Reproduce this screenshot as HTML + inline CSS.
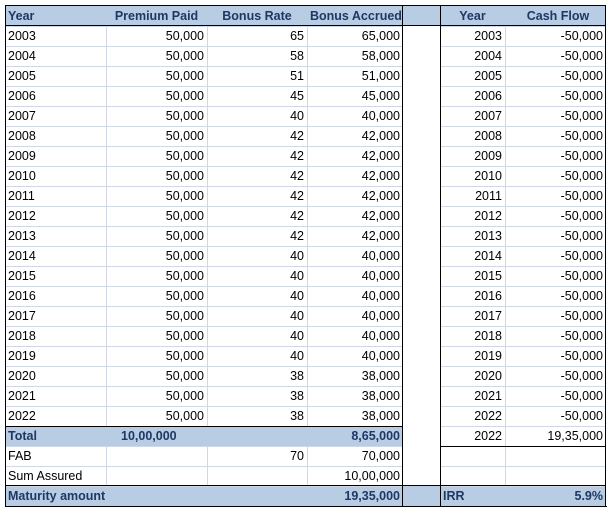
<!DOCTYPE html>
<html><head><meta charset="utf-8"><style>
body{margin:0;width:612px;height:511px;background:#fff;position:relative;overflow:hidden;font-family:"Liberation Sans",sans-serif;font-size:12.5px;color:#000}
.c{position:absolute;height:20px;line-height:20px;box-sizing:border-box;padding:0 3px;white-space:nowrap}
.r{text-align:right}
.m{text-align:center}
.b{font-weight:bold;color:#1f3864}
.bg{position:absolute;background:#b8cce4}
.h{position:absolute;height:1px;background:#d0d7e5}
.v{position:absolute;width:1px;background:#d0d7e5}
.k{position:absolute;background:#000}
</style></head><body>
<script>
var X=[5,106,207,307,403,440,505,606];
var T=6,R=20;
var g=document.body,h='';
function bg(x1,y,x2,n){h+='<div class="bg" style="left:'+x1+'px;top:'+y+'px;width:'+(x2-x1)+'px;height:'+(n||20)+'px"></div>';}
bg(5,T,606);
bg(5,T+21*R,403);
bg(5,T+24*R,606);
for(var i=1;i<25;i++){var y=T+i*R;h+='<div class="h" style="left:5px;top:'+y+'px;width:398px"></div>';h+='<div class="h" style="left:440px;top:'+y+'px;width:166px"></div>';}
[106,207,307].forEach(function(x){h+='<div class="v" style="left:'+x+'px;top:'+(T+R)+'px;height:'+(20*R)+'px"></div>';h+='<div class="v" style="left:'+x+'px;top:'+(T+22*R)+'px;height:'+(2*R)+'px"></div>';});
h+='<div class="v" style="left:505px;top:'+(T+R)+'px;height:'+(23*R)+'px"></div>';
function k(l,t,w,hh){h+='<div class="k" style="left:'+l+'px;top:'+t+'px;width:'+w+'px;height:'+hh+'px"></div>';}
k(5,T-1,601,1);k(5,T+25*R,602,1);k(5,T-1,1,501);k(605,T-1,1,501);
k(402,T-1,1,501);k(440,T-1,1,501);
k(5,T+R-1,601,1);
k(5,T+21*R,398,1);k(440,T+22*R,166,1);
k(5,T+24*R-1,601,1);
function c(col,row,t,cls,w,xo){var x=(xo!==undefined)?xo:X[col];var wd=w||(X[col+1]-x);h+='<div class="c '+(cls||'')+'" style="left:'+x+'px;top:'+(T+row*R)+'px;width:'+wd+'px">'+t+'</div>';}
c(0,0,'Year','b');c(1,0,'Premium Paid','b m');
c(2,0,'Bonus Rate','b m');c(3,0,'Bonus Accrued','b m');c(5,0,'Year','b m');c(6,0,'Cash Flow','b m',null,510);
var rates=[65,58,51,45,40,42,42,42,42,42,42,40,40,40,40,40,40,38,38,38];
for(var i=0;i<20;i++){var y=2003+i;c(0,i+1,y);c(1,i+1,'50,000','r');c(2,i+1,rates[i],'r');c(3,i+1,rates[i]+',000','r');c(5,i+1,y,'r');c(6,i+1,'-50,000','r');}
c(0,21,'Total','b');c(1,21,'10,00,000','b',90,118);c(3,21,'8,65,000','b r');c(5,21,'2022','r');c(6,21,'19,35,000','r');
c(0,22,'FAB');c(2,22,'70','r');c(3,22,'70,000','r');
c(0,23,'Sum Assured');c(3,23,'10,00,000','r');
c(0,24,'Maturity amount','b',200);c(3,24,'19,35,000','b r');c(5,24,'IRR','b');c(6,24,'5.9%','b r');
g.insertAdjacentHTML('beforeend',h);
</script>
</body></html>
